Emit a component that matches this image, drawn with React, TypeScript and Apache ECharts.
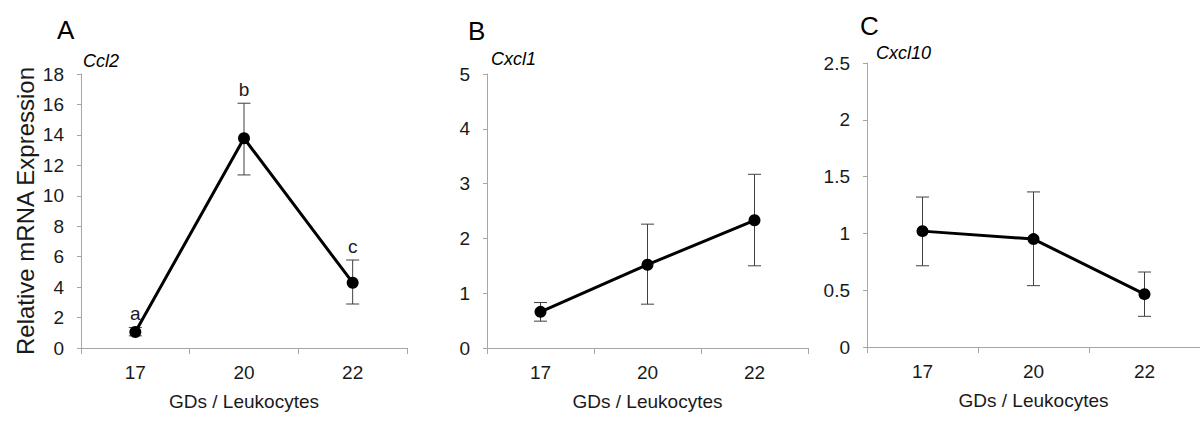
import React, { useEffect, useRef } from "react";
import * as echarts from "echarts";

const categories = ["17", "20", "22"];
const ccl2Mean = [1.05, 13.78, 4.29];
const ccl2Low = [0.8, 11.37, 2.89];
const ccl2High = [1.35, 16.08, 5.78];
const ccl2Letters = ["a", "b", "c"];
const cxcl1Mean = [0.66, 1.52, 2.33];
const cxcl1Low = [0.49, 0.8, 1.5];
const cxcl1High = [0.83, 2.26, 3.17];
const cxcl10Mean = [1.02, 0.95, 0.465];
const cxcl10Low = [0.715, 0.54, 0.27];
const cxcl10High = [1.32, 1.365, 0.66];
const panelLetters = ["A", "B", "C"];
const geneNames = ["Ccl2", "Cxcl1", "Cxcl10"];
const xTitle = "GDs / Leukocytes";
const yTitle = "Relative mRNA Expression";

const FONT = "'Liberation Sans', Arial, sans-serif";
const AXIS_COLOR = "#a6a6a6";
const TEXT_COLOR = "#1a1a1a";

function errorSeries(idx: number, low: number[], high: number[], letters?: string[]) {
  return {
    type: "custom",
    xAxisIndex: idx,
    yAxisIndex: idx,
    z: 1,
    data: categories.map((_, i) => [i, low[i], high[i]]),
    renderItem: (params: any, api: any) => {
      const i = api.value(0);
      const lo = api.coord([i, api.value(1)]);
      const hi = api.coord([i, api.value(2)]);
      const hw = 6.5;
      const st = { stroke: "#404040", lineWidth: 1 };
      const children: any[] = [
        { type: "line", shape: { x1: lo[0], y1: lo[1], x2: hi[0], y2: hi[1] }, style: st },
        { type: "line", shape: { x1: hi[0] - hw, y1: hi[1], x2: hi[0] + hw, y2: hi[1] }, style: st },
        { type: "line", shape: { x1: lo[0] - hw, y1: lo[1], x2: lo[0] + hw, y2: lo[1] }, style: st },
      ];
      if (letters && letters[params.dataIndex]) {
        children.push({
          type: "text",
          x: hi[0],
          y: hi[1] - 4,
          style: {
            text: letters[params.dataIndex],
            fontSize: 19,
            fontFamily: FONT,
            fill: TEXT_COLOR,
            align: "center",
            verticalAlign: "bottom",
          },
        });
      }
      return { type: "group", children };
    },
  };
}

function lineSeries(idx: number, data: number[]) {
  return {
    type: "line",
    xAxisIndex: idx,
    yAxisIndex: idx,
    z: 3,
    data,
    symbol: "circle",
    symbolSize: 12,
    itemStyle: { color: "#000" },
    lineStyle: { color: "#000", width: 3 },
  };
}

export default function App() {
  const ref = useRef<HTMLDivElement>(null);
  useEffect(() => {
    if (!ref.current) return;
    const chart = echarts.init(ref.current, null, { renderer: "svg" });
    const grids = [
      { left: 81, top: 74, width: 326, height: 274 },
      { left: 487, top: 74, width: 321, height: 274 },
      { left: 867, top: 63, width: 333, height: 284 },
    ];
    const yRanges = [
      { max: 18, interval: 2 },
      { max: 5, interval: 1 },
      { max: 2.5, interval: 0.5 },
    ];
    const letterPos = [
      { left: 57, top: 17 },
      { left: 468, top: 18 },
      { left: 860, top: 13 },
    ];
    const genePos = [
      { left: 83, top: 52 },
      { left: 491, top: 50 },
      { left: 876, top: 44 },
    ];
    const option: any = {
      animation: false,
      backgroundColor: "#fff",
      textStyle: { fontFamily: FONT },
      title: [
        ...panelLetters.map((t, i) => ({
          text: t,
          left: letterPos[i].left,
          top: letterPos[i].top,
          padding: 0,
          textStyle: { fontSize: 26, fontWeight: "normal", color: "#000", fontFamily: FONT },
        })),
        ...geneNames.map((t, i) => ({
          text: t,
          left: genePos[i].left,
          top: genePos[i].top,
          padding: 0,
          textStyle: { fontSize: 18, fontWeight: "normal", fontStyle: "italic", color: "#000", fontFamily: FONT },
        })),
      ],
      grid: grids,
      xAxis: grids.map((_, i) => ({
        type: "category",
        gridIndex: i,
        data: categories,
        boundaryGap: true,
        name: xTitle,
        nameLocation: "middle",
        nameGap: 44,
        nameTextStyle: { fontSize: 19, color: TEXT_COLOR, fontFamily: FONT },
        axisLine: { lineStyle: { color: AXIS_COLOR, width: 1 } },
        axisTick: { show: true, length: 6, lineStyle: { color: AXIS_COLOR } },
        axisLabel: { fontSize: 19, color: TEXT_COLOR, margin: 15, fontFamily: FONT },
        splitLine: { show: false },
      })),
      yAxis: grids.map((_, i) => ({
        type: "value",
        gridIndex: i,
        min: 0,
        max: yRanges[i].max,
        interval: yRanges[i].interval,
        name: i === 0 ? yTitle : "",
        nameLocation: "middle",
        nameRotate: 90,
        nameGap: 44,
        nameTextStyle: { fontSize: 24, color: TEXT_COLOR, fontFamily: FONT },
        axisLine: { show: true, lineStyle: { color: AXIS_COLOR, width: 1 } },
        axisTick: { show: true, length: 4, lineStyle: { color: AXIS_COLOR } },
        axisLabel: { fontSize: 19, color: TEXT_COLOR, margin: 17, fontFamily: FONT },
        splitLine: { show: false },
      })),
      series: [
        errorSeries(0, ccl2Low, ccl2High, ccl2Letters),
        lineSeries(0, ccl2Mean),
        errorSeries(1, cxcl1Low, cxcl1High),
        lineSeries(1, cxcl1Mean),
        errorSeries(2, cxcl10Low, cxcl10High),
        lineSeries(2, cxcl10Mean),
      ],
    };
    chart.setOption(option);
    return () => chart.dispose();
  }, []);
  return (
    <div
      ref={ref}
      style={{ position: "fixed", left: 0, top: 0, width: 1200, height: 425, background: "#fff" }}
    />
  );
}
